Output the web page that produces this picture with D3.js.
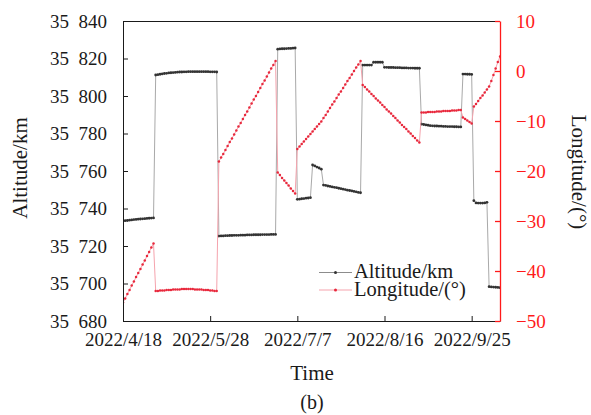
<!DOCTYPE html>
<html>
<head>
<meta charset="utf-8">
<script src="https://cdn.jsdelivr.net/npm/d3@7"></script>
<style>
  html, body { margin: 0; padding: 0; background: #fff; }
  svg { display: block; }
  text { font-family: "Liberation Serif", "Times New Roman", serif; }
</style>
</head>
<body>
<svg id="chart" width="591" height="415"></svg>
<script>
// ---- data (one value per day, starting at startDate) ----
const startDate = "2022-04-18";
const endDate = "2022-10-08";

const altitude = [
  35733.3, 35733.5, 35733.6, 35733.8, 35733.9, 35734.1, 35734.2, 35734.3, 35734.4, 35734.5,
  35734.6, 35734.7, 35734.8, 35734.9, 35735.0,
  35811.2, 35811.4, 35811.6, 35811.8, 35812.0, 35812.1, 35812.3, 35812.4, 35812.5, 35812.6,
  35812.7, 35812.8, 35812.8, 35812.9, 35812.9, 35813.0, 35813.0, 35813.0, 35813.0, 35813.0,
  35813.0, 35813.0, 35813.0, 35813.0, 35813.0, 35812.9, 35812.9, 35812.9, 35812.8,
  35725.3, 35725.4, 35725.4, 35725.5, 35725.5, 35725.6, 35725.6, 35725.7, 35725.7, 35725.7,
  35725.8, 35725.8, 35725.8, 35725.9, 35725.9, 35725.9, 35726.0, 35726.0, 35726.0, 35726.0,
  35726.1, 35726.1, 35726.1, 35726.1, 35726.2, 35726.2, 35726.2,
  35825.0, 35825.1, 35825.2, 35825.2, 35825.3, 35825.4, 35825.4, 35825.5, 35825.6,
  35744.9, 35745.0, 35745.2, 35745.3, 35745.5, 35745.6, 35745.8,
  35763.2, 35762.7, 35762.1, 35761.6, 35761.0,
  35752.5, 35752.3, 35752.0, 35751.8, 35751.5, 35751.3, 35751.1, 35750.8, 35750.6, 35750.3,
  35750.1, 35749.8, 35749.6, 35749.4, 35749.1, 35748.9, 35748.6, 35748.4,
  35816.5, 35816.5, 35816.5, 35816.5, 35816.5,
  35818.0, 35818.0, 35818.0, 35818.0, 35818.0,
  35815.3, 35815.3, 35815.2, 35815.2, 35815.2, 35815.1, 35815.1, 35815.1, 35815.0, 35815.0,
  35815.0, 35814.9, 35814.9, 35814.9, 35814.8, 35814.8, 35814.8,
  35785.0, 35784.8, 35784.6, 35784.4, 35784.2, 35784.1, 35784.0, 35784.0, 35783.9, 35783.9,
  35783.8, 35783.8, 35783.7, 35783.7, 35783.7, 35783.6, 35783.6, 35783.5, 35783.5,
  35811.7, 35811.7, 35811.6, 35811.6, 35811.5,
  35744.2, 35743.0, 35742.9, 35742.9, 35742.9, 35743.0, 35743.3,
  35698.3, 35698.2, 35698.1, 35698.0, 35697.9, 35697.8
];

const longitude = [
  -46.3, -45.5, -44.6, -43.8, -42.9, -42.1, -41.2, -40.4, -39.6, -38.7,
  -37.9, -37.0, -36.2, -35.3, -34.5,
  -44.0, -44.0, -43.9, -43.9, -43.9, -43.8, -43.8, -43.8, -43.7, -43.7,
  -43.7, -43.7, -43.6, -43.6, -43.6, -43.6, -43.6, -43.6, -43.7, -43.7,
  -43.7, -43.7, -43.8, -43.8, -43.8, -43.9, -43.9, -44.0, -44.0,
  -18.1, -17.3, -16.6, -15.8, -15.0, -14.2, -13.5, -12.7, -11.9, -11.1,
  -10.4, -9.6, -8.8, -8.1, -7.3, -6.5, -5.7, -5.0, -4.2, -3.4,
  -2.6, -1.9, -1.1, -0.3, 0.5, 1.2, 2.0,
  -20.3, -20.8, -21.4, -21.9, -22.4, -22.9, -23.5, -24.0, -24.5,
  -15.6, -15.1, -14.6, -14.1, -13.6, -13.1, -12.6, -12.1, -11.6, -11.1, -10.6, -10.1,
  -9.4, -8.8, -8.1, -7.4, -6.7, -6.1, -5.4, -4.7, -4.1, -3.4,
  -2.7, -2.0, -1.4, -0.7, 0.0, 0.7, 1.3, 2.0,
  -2.8, -3.2, -3.7, -4.1, -4.6, -5.0, -5.5, -5.9, -6.3, -6.8,
  -7.2, -7.7, -8.1, -8.5, -9.0, -9.4, -9.9, -10.3, -10.8, -11.2,
  -11.6, -12.1, -12.5, -13.0, -13.4, -13.9, -14.3,
  -8.3, -8.3, -8.3, -8.2, -8.2, -8.2, -8.2, -8.1, -8.1, -8.1,
  -8.0, -8.0, -8.0, -8.0, -7.9, -7.9, -7.9, -7.8, -7.8,
  -9.3, -9.6, -9.9, -10.2, -10.5,
  -7.1, -6.6, -6.0, -5.4, -4.9, -4.3, -3.7, -3.1, -2.0, -0.8, 0.5, 1.8, 2.9
];

const xTickLabels = ["2022/4/18", "2022/5/28", "2022/7/7", "2022/8/16", "2022/9/25"];
const altTicks = [35680, 35700, 35720, 35740, 35760, 35780, 35800, 35820, 35840];
const altTickLabels = ["35\u2002680", "35\u2002700", "35\u2002720", "35\u2002740", "35\u2002760",
                       "35\u2002780", "35\u2002800", "35\u2002820", "35\u2002840"];
const lonTicks = [-50, -40, -30, -20, -10, 0, 10];
const seriesNames = ["Altitude/km", "Longitude/(\u00b0)"];

// ---- layout ----
const L = 123, R = 500, T = 21, B = 321;
const svg = d3.select("#chart");

const parse = d3.timeParse("%Y-%m-%d");
const parseTick = d3.timeParse("%Y/%-m/%-d");
const t0 = parse(startDate);
const x = d3.scaleTime().domain([t0, parse(endDate)]).range([L, R]);
const yA = d3.scaleLinear().domain([35680, 35840]).range([B, T]);
const yL = d3.scaleLinear().domain([-50, 10]).range([B, T]);

const altData = altitude.map((v, i) => ({ date: d3.timeDay.offset(t0, i), v }));
const lonData = longitude.map((v, i) => ({ date: d3.timeDay.offset(t0, i), v }));

const black = "#1a1a1a";
const red = "#ff1a1a";

// clip
svg.append("defs").append("clipPath").attr("id", "plotclip")
  .append("rect").attr("x", L).attr("y", T - 2).attr("width", R - L + 1).attr("height", B - T + 4);

const plot = svg.append("g").attr("clip-path", "url(#plotclip)");

// altitude series
plot.append("path").datum(altData)
  .attr("fill", "none").attr("stroke", "#a9a9a9").attr("stroke-width", 1)
  .attr("d", d3.line().x(d => x(d.date)).y(d => yA(d.v)));
plot.append("g").selectAll("circle").data(altData).join("circle")
  .attr("cx", d => x(d.date)).attr("cy", d => yA(d.v)).attr("r", 1.4).attr("fill", "#333");

// longitude series
plot.append("path").datum(lonData)
  .attr("fill", "none").attr("stroke", "#f5a3ad").attr("stroke-width", 1)
  .attr("d", d3.line().x(d => x(d.date)).y(d => yL(d.v)));
plot.append("g").selectAll("circle").data(lonData).join("circle")
  .attr("cx", d => x(d.date)).attr("cy", d => yL(d.v)).attr("r", 1.25).attr("fill", "#e8283c");

// top frame line
svg.append("line").attr("x1", L).attr("x2", R).attr("y1", T + 0.5).attr("y2", T + 0.5)
  .attr("stroke", black).attr("stroke-width", 1);

// axes
const xAxis = d3.axisBottom(x)
  .tickValues(xTickLabels.map(parseTick))
  .tickFormat((d, i) => xTickLabels[i])
  .tickSizeInner(-5).tickSizeOuter(0).tickPadding(12);
const gx = svg.append("g").attr("transform", `translate(0,${B})`).call(xAxis);
gx.selectAll("path, line").attr("stroke", black);
gx.selectAll("text").attr("fill", black).style("font-size", "19px");

const leftAxis = d3.axisLeft(yA)
  .tickValues(altTicks)
  .tickFormat((d, i) => altTickLabels[i])
  .tickSizeInner(-5).tickSizeOuter(0).tickPadding(16);
const gl = svg.append("g").attr("transform", `translate(${L},0)`).call(leftAxis);
gl.selectAll("path, line").attr("stroke", black);
gl.selectAll("text").attr("fill", black).style("font-size", "19px");

const rightAxis = d3.axisRight(yL)
  .tickValues(lonTicks)
  .tickSizeInner(-5).tickSizeOuter(0).tickPadding(16);
const gr = svg.append("g").attr("transform", `translate(${R},0)`).call(rightAxis);
gr.selectAll("path, line").attr("stroke", red).attr("stroke-width", 1.3);
gr.selectAll("text").attr("fill", red).style("font-size", "19px");

// axis titles
svg.append("text").attr("transform", "translate(27,168) rotate(-90)")
  .attr("text-anchor", "middle").style("font-size", "21px").attr("fill", black)
  .text("Altitude/km");
svg.append("text").attr("transform", "translate(572,172) rotate(90)")
  .attr("text-anchor", "middle").style("font-size", "21px").attr("fill", black)
  .text("Longitude/(\u00b0)");
svg.append("text").attr("x", 312).attr("y", 380)
  .attr("text-anchor", "middle").style("font-size", "21px").attr("fill", black)
  .text("Time");
svg.append("text").attr("x", 312).attr("y", 409)
  .attr("text-anchor", "middle").style("font-size", "20px").attr("fill", black)
  .text("(b)");

// legend
const legend = [
  { name: seriesNames[0], line: "#8c8c8c", dot: "#333", y: 272.5, ty: 278 },
  { name: seriesNames[1], line: "#f5a3ad", dot: "#e8283c", y: 290, ty: 296 }
];
const lg = svg.append("g");
legend.forEach(e => {
  lg.append("line").attr("x1", 319).attr("x2", 352).attr("y1", e.y).attr("y2", e.y)
    .attr("stroke", e.line).attr("stroke-width", 1.2);
  lg.append("circle").attr("cx", 335.5).attr("cy", e.y).attr("r", 1.5).attr("fill", e.dot);
  lg.append("text").attr("x", 354).attr("y", e.ty).style("font-size", "20.5px")
    .attr("fill", black).text(e.name);
});
</script>
</body>
</html>
